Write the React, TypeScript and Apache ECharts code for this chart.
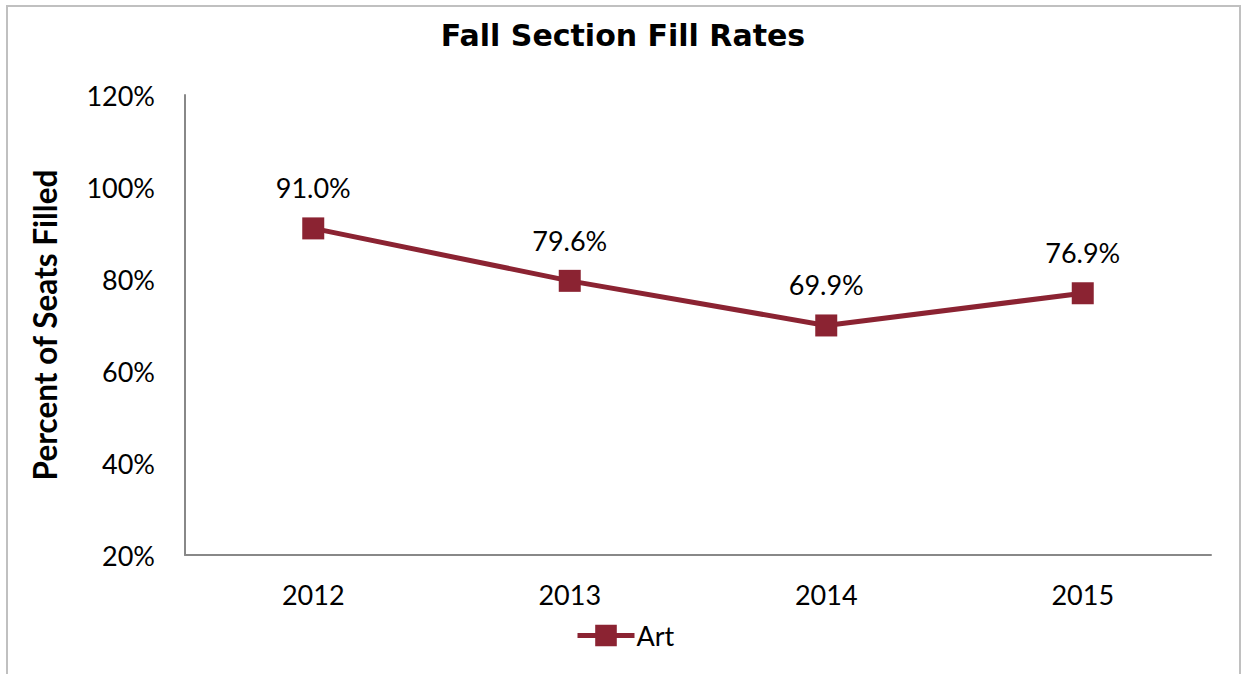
import React, { useEffect, useRef } from "react";
import * as echarts from "echarts";

const years = ["2012", "2013", "2014", "2015"];
const artValues = [91.0, 79.6, 69.9, 76.9];
const seriesName = "Art";
const titleText = "Fall Section Fill Rates";
const yAxisTitle = "Percent of Seats Filled";

const FONT = "Lato, 'Open Sans', sans-serif";
const TITLE_FONT = "'DejaVu Sans', 'Open Sans', sans-serif";
const LINE_COLOR = "#8B2332";

export default function App() {
  const ref = useRef<HTMLDivElement>(null);
  useEffect(() => {
    if (!ref.current) return;
    const chart = echarts.init(ref.current, null, { renderer: "svg" });
    chart.setOption({
      animation: false,
      backgroundColor: "#ffffff",
      textStyle: { fontFamily: FONT },
      title: {
        text: titleText,
        left: "center",
        top: 15,
        textStyle: { fontFamily: TITLE_FONT, fontSize: 30, fontWeight: "bold", color: "#000" },
      },
      graphic: [
        {
          type: "rect",
          shape: { x: 7, y: 6, width: 1233, height: 700 },
          style: { fill: "none", stroke: "#c0c0c0", lineWidth: 2 },
          silent: true,
        },
      ],
      grid: { left: 185, right: 35, top: 95, bottom: 119 },
      legend: {
        bottom: 20,
        left: 570,
        itemWidth: 57,
        itemHeight: 27,
        itemGap: 10,
        lineStyle: { width: 5 },
        textStyle: { fontFamily: FONT, fontSize: 27, color: "#000", padding: [0, 0, 0, -3] },
        data: [seriesName],
      },
      xAxis: {
        type: "category",
        data: years,
        boundaryGap: true,
        axisLine: { lineStyle: { color: "#888", width: 2 } },
        axisTick: { show: false },
        axisLabel: { fontFamily: FONT, fontSize: 27, color: "#000", margin: 26 },
      },
      yAxis: {
        type: "value",
        min: 20,
        max: 120,
        interval: 20,
        name: yAxisTitle,
        nameLocation: "middle",
        nameGap: 124,
        nameTextStyle: { fontFamily: FONT, fontSize: 31.5, fontWeight: "bold", color: "#000" },
        axisLine: { show: true, lineStyle: { color: "#888", width: 2 } },
        axisTick: { show: false },
        splitLine: { show: false },
        axisLabel: {
          fontFamily: FONT,
          fontSize: 27,
          color: "#000",
          margin: 30,
          formatter: (v: number) => `${v}%`,
        },
      },
      series: [
        {
          name: seriesName,
          type: "line",
          data: artValues,
          symbol: "rect",
          symbolSize: 22,
          lineStyle: { color: LINE_COLOR, width: 5 },
          itemStyle: { color: LINE_COLOR },
          label: {
            show: true,
            position: "top",
            distance: 16,
            fontFamily: FONT,
            fontSize: 27,
            color: "#000",
            formatter: (p: any) => `${p.value.toFixed(1)}%`,
          },
        },
      ],
    });
    return () => chart.dispose();
  }, []);
  return (
    <div
      ref={ref}
      style={{ position: "fixed", left: 0, top: 0, width: 1246, height: 674 }}
    />
  );
}
